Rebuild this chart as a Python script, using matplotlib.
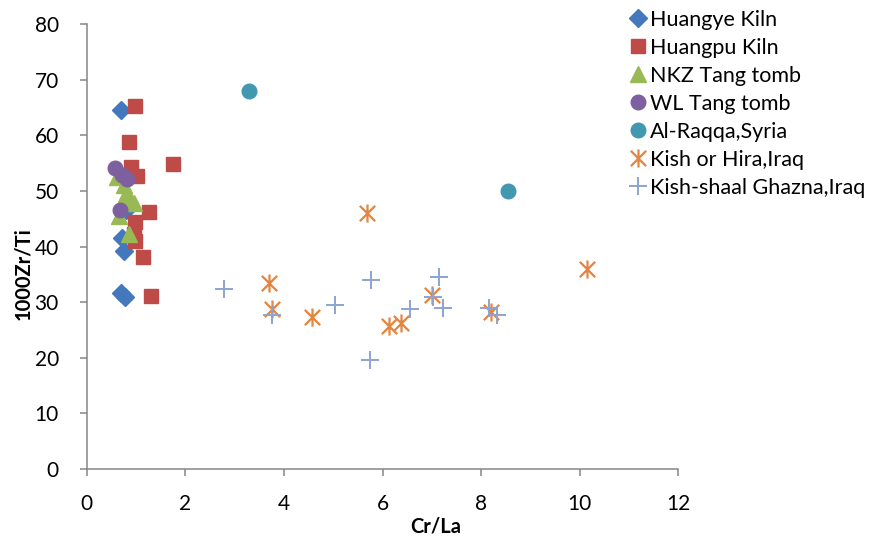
import numpy as np
import matplotlib
matplotlib.use("Agg")
from matplotlib import pyplot as plt
from matplotlib.path import Path

plt.rcParams["font.family"] = ["Lato", "DejaVu Sans"]

# Cr/La vs 1000Zr/Ti for each sample group
huangye_x = [0.69, 0.72, 0.75, 0.70, 0.77, 0.80]
huangye_y = [64.6, 41.6, 39.2, 31.6, 30.9, 46.6]

huangpu_x = [0.99, 0.85, 1.76, 0.90, 1.03, 1.27, 0.98, 0.96, 0.97, 1.14, 1.31]
huangpu_y = [65.2, 58.8, 54.9, 54.3, 52.6, 46.2, 44.5, 42.2, 41.0, 38.1, 31.1]

nkz_x = [0.62, 0.75, 0.80, 0.88, 0.95, 0.65, 0.85]
nkz_y = [52.5, 51.0, 49.5, 48.5, 47.8, 45.5, 42.3]

wl_x = [0.58, 0.71, 0.81, 0.68]
wl_y = [54.1, 52.9, 52.2, 46.6]

raqqa_x = [3.29, 8.55]
raqqa_y = [68.0, 50.0]

kish_x = [5.69, 3.70, 3.75, 4.56, 6.13, 6.37, 7.01, 8.21, 10.15]
kish_y = [46.1, 33.4, 28.8, 27.4, 25.8, 26.3, 31.3, 28.2, 36.0]

ghazna_x = [2.79, 3.75, 5.04, 5.76, 5.75, 6.56, 7.15, 7.02, 7.23, 8.15, 8.33]
ghazna_y = [32.4, 27.7, 29.5, 34.0, 19.6, 28.8, 34.6, 30.9, 29.0, 28.9, 27.7]

# Excel-style asterisk: vertical bar plus an X
asterisk = Path(
    [(0, -1), (0, 1), (-0.85, -0.85), (0.85, 0.85), (-0.85, 0.85), (0.85, -0.85)],
    [Path.MOVETO, Path.LINETO, Path.MOVETO, Path.LINETO, Path.MOVETO, Path.LINETO],
)

fig = plt.figure(figsize=(8.72, 5.41), dpi=100)
ax = fig.add_axes([0.0994, 0.133, 0.6785, 0.8226])

ax.plot(huangye_x, huangye_y, ls="none", marker="D", ms=8.8, color="#4478BC",
        mec="#4478BC", label="Huangye Kiln")
ax.plot(huangpu_x, huangpu_y, ls="none", marker="s", ms=10.2, color="#BE4B48",
        mec="#BE4B48", label="Huangpu Kiln")
ax.plot(nkz_x, nkz_y, ls="none", marker="^", ms=11.5, color="#98B954",
        mec="#98B954", label="NKZ Tang tomb")
ax.plot(wl_x, wl_y, ls="none", marker="o", ms=10.5, color="#7D60A0",
        mec="#7D60A0", label="WL Tang tomb")
ax.plot(raqqa_x, raqqa_y, ls="none", marker="o", ms=10.5, color="#4198AF",
        mec="#4198AF", label="Al-Raqqa,Syria")
ax.plot(kish_x, kish_y, ls="none", marker=asterisk, ms=13, mew=1.6,
        color="#E4843E", mfc="none", label="Kish or Hira,Iraq")
ax.plot(ghazna_x, ghazna_y, ls="none", marker="+", ms=13, mew=1.4,
        color="#8CA4D1", label="Kish-shaal Ghazna,Iraq")

ax.set_xlim(0, 12)
ax.set_ylim(0, 80)
ax.set_xticks(np.arange(0, 13, 2))
ax.set_yticks(np.arange(0, 81, 10))

for side in ["top", "right"]:
    ax.spines[side].set_visible(False)
for side in ["left", "bottom"]:
    ax.spines[side].set_color("#868686")
    ax.spines[side].set_linewidth(1.1)
ax.tick_params(direction="out", length=5, width=1.1, color="#868686",
               labelsize=15)
ax.tick_params(axis="x", pad=13)
ax.tick_params(axis="y", pad=15)

# axis titles sit centred on the whole chart area
fig.text(0.5, 0.026, "Cr/La", fontsize=14.5, fontweight="bold",
         ha="center", va="center")
fig.text(0.0264, 0.4935, "1000Zr/Ti", fontsize=14.5, fontweight="bold",
         ha="center", va="center", rotation=90)

fig.legend(loc="upper left", bbox_to_anchor=(0.723, 0.982), frameon=False,
           fontsize=15.5, numpoints=1, handlelength=0.7, handletextpad=0.2,
           labelspacing=0.37, borderpad=0, borderaxespad=0)

fig.savefig("out.png", dpi=100)
